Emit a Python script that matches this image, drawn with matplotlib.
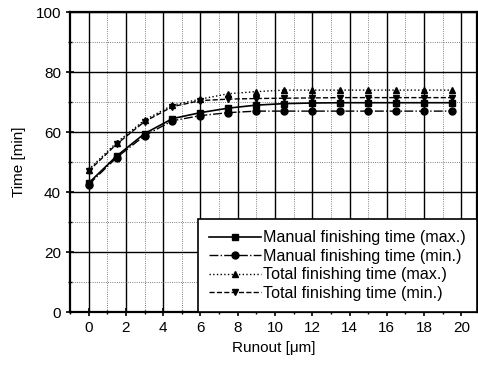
import matplotlib.pyplot as plt
import numpy as np

plt.rcParams['font.family'] = ['Liberation Sans', 'DejaVu Sans']

runout = [0, 1.5, 3, 4.5, 6, 7.5, 9, 10.5, 12, 13.5, 15, 16.5, 18, 19.5]
manual_max = [43, 52, 59.5, 64.5, 66.5, 68, 69, 69.5, 69.7, 69.8, 69.8, 69.8, 69.8, 69.8]
manual_min = [42.5, 51.5, 58.8, 63.8, 65.5, 66.5, 67, 67, 67, 67, 67, 67, 67, 67]
total_max = [47.5, 56.5, 64, 69, 71, 72.8, 73.5, 74, 74, 74, 74, 74, 74, 74]
total_min = [47, 56, 63.5, 68.5, 70.5, 71, 71.2, 71.3, 71.4, 71.5, 71.5, 71.5, 71.5, 71.5]

fig = plt.figure(figsize=(4.78, 3.68), dpi=100)
ax = fig.add_axes([0.1464, 0.152, 0.852, 0.815])

ax.plot(runout, manual_max, c='black', ls='-', lw=1.2, marker='s', ms=5,
        label='Manual finishing time (max.)', zorder=3)
ax.plot(runout, manual_min, c='black', ls='-.', lw=1.0, marker='o', ms=5,
        label='Manual finishing time (min.)', zorder=3)
ax.plot(runout, total_max, c='black', ls=':', lw=1.0, marker='^', ms=5,
        label='Total finishing time (max.)', zorder=3)
ax.plot(runout, total_min, c='black', ls='--', lw=1.0, marker='v', ms=5,
        label='Total finishing time (min.)', zorder=3)

ax.set_xlim(-1, 20.85)
ax.set_ylim(0, 100)
ax.set_xticks(np.arange(0, 21, 2))
ax.set_xticks(np.arange(-1, 21, 1), minor=True)
ax.set_yticks(np.arange(0, 101, 20))
ax.set_yticks(np.arange(0, 101, 10), minor=True)

ax.grid(which='major', color='black', ls='-', lw=1.0)
ax.grid(which='minor', color='#555555', ls=':', lw=0.6)
ax.set_axisbelow(True)

ax.tick_params(axis='both', which='major', direction='inout', length=6, width=1.2,
               labelsize=11)
ax.tick_params(axis='both', which='minor', direction='inout', length=3, width=1)
for s in ax.spines.values():
    s.set_linewidth(1.6)

ax.set_xlabel('Runout [\u03bcm]', fontsize=11, labelpad=4)
ax.set_ylabel('Time [min]', fontsize=11, labelpad=7)

leg = ax.legend(loc='lower right', borderaxespad=0, fancybox=False, framealpha=1,
                edgecolor='black', fontsize=11.6, handlelength=3.2,
                handletextpad=0.15, labelspacing=0.22, borderpad=0.7)
leg.get_frame().set_linewidth(1.2)

fig.savefig('out.png', dpi=100)
